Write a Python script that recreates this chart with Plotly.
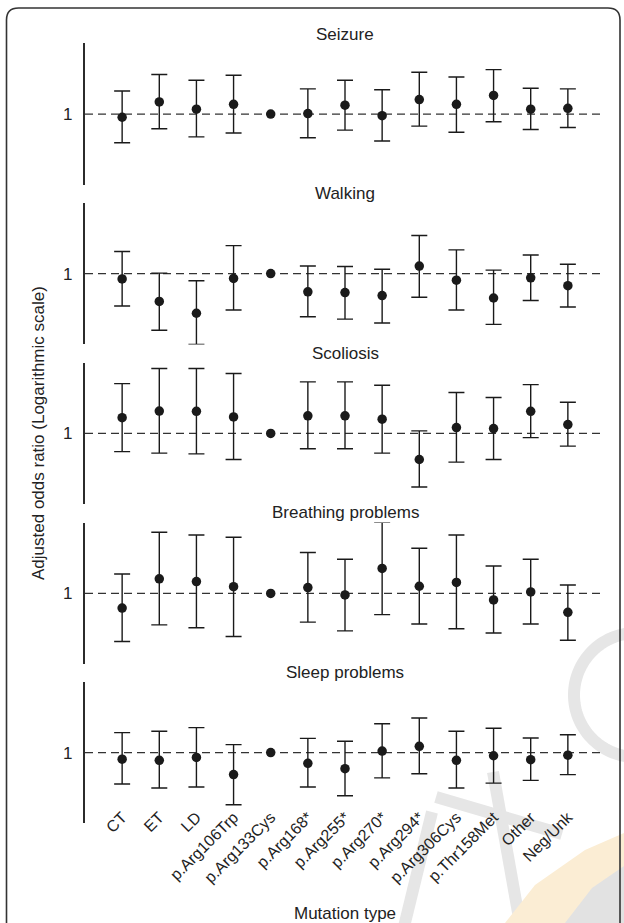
import numpy as np
import plotly.graph_objects as go

W, H = 624, 923

categories = ["CT", "ET", "LD", "p.Arg106Trp", "p.Arg133Cys", "p.Arg168*", "p.Arg255*",
              "p.Arg270*", "p.Arg294*", "p.Arg306Cys", "p.Thr158Met", "Other", "Neg/Unk"]
reference_category = "p.Arg133Cys"

panel_titles = ["Seizure", "Walking", "Scoliosis", "Breathing problems", "Sleep problems"]

# Adjusted odds ratios (point, lower CI, upper CI); reference category = 1 with no CI
seizure_or = [0.94, 1.27, 1.10, 1.21, 1.00, 1.01, 1.19, 0.97, 1.33, 1.21, 1.44, 1.10, 1.12]
seizure_lo = [0.57, 0.75, 0.64, 0.69, None, 0.63, 0.73, 0.59, 0.79, 0.70, 0.86, 0.74, 0.77]
seizure_hi = [1.57, 2.17, 1.94, 2.14, None, 1.64, 1.94, 1.61, 2.27, 2.07, 2.39, 1.66, 1.64]

walking_or = [0.90, 0.58, 0.46, 0.91, 1.00, 0.70, 0.69, 0.65, 1.16, 0.88, 0.62, 0.92, 0.79]
walking_lo = [0.53, 0.33, 0.25, 0.49, None, 0.43, 0.41, 0.38, 0.63, 0.49, 0.37, 0.59, 0.52]
walking_hi = [1.54, 1.01, 0.87, 1.73, None, 1.16, 1.15, 1.09, 2.11, 1.59, 1.07, 1.44, 1.20]

scoliosis_or = [1.36, 1.55, 1.54, 1.38, 1.00, 1.41, 1.41, 1.32, 0.60, 1.12, 1.10, 1.54, 1.19]
scoliosis_lo = [0.70, 0.68, 0.67, 0.60, None, 0.74, 0.74, 0.68, 0.35, 0.57, 0.60, 0.92, 0.78]
scoliosis_hi = [2.65, 3.56, 3.56, 3.23, None, 2.74, 2.74, 2.57, 1.05, 2.23, 2.02, 2.60, 1.84]

breathing_or = [0.75, 1.33, 1.26, 1.14, 1.00, 1.12, 0.97, 1.63, 1.15, 1.24, 0.88, 1.03, 0.69]
breathing_lo = [0.39, 0.54, 0.51, 0.43, None, 0.57, 0.48, 0.66, 0.55, 0.50, 0.46, 0.55, 0.40]
breathing_hi = [1.46, 3.31, 3.14, 3.00, None, 2.23, 1.95, 4.02, 2.42, 3.14, 1.71, 1.95, 1.18]

sleep_or = [0.88, 0.86, 0.91, 0.65, 1.00, 0.81, 0.73, 1.03, 1.13, 0.86, 0.94, 0.87, 0.95]
sleep_lo = [0.54, 0.50, 0.51, 0.36, None, 0.51, 0.43, 0.61, 0.66, 0.50, 0.55, 0.58, 0.65]
sleep_hi = [1.48, 1.52, 1.63, 1.17, None, 1.32, 1.25, 1.76, 1.97, 1.52, 1.61, 1.33, 1.42]

panels = [
    (seizure_or, seizure_lo, seizure_hi),
    (walking_or, walking_lo, walking_hi),
    (scoliosis_or, scoliosis_lo, scoliosis_hi),
    (breathing_or, breathing_lo, breathing_hi),
    (sleep_or, sleep_lo, sleep_hi),
]

y_tick_vals = [1]
y_tick_text = ["1"]
y_range_or = (0.25, 4.0)

# ---------------- layout geometry (pixels) ----------------
plot_left, plot_right = 85, 605
panel_tops = [43.3, 202.8, 362.6, 522.6, 681.8]
panel_h = 141.6
title_y = [34.5, 193.5, 353.5, 512.5, 672.5]
tick_label_line_y = 804

def px_x(px):
    return (px - plot_left) / (plot_right - plot_left)

def py(pyv):
    return 1 - pyv / H

FONT = "Liberation Sans, Arial, sans-serif"
INK = "#1a1a1a"

fig = go.Figure()
layout = dict(
    width=W, height=H,
    margin=dict(l=plot_left, r=W - plot_right, t=0, b=0),
    paper_bgcolor="white", plot_bgcolor="rgba(0,0,0,0)",
    showlegend=False,
    font=dict(family=FONT, size=16, color="#222"),
)

shapes = []
annotations = []

# ---- watermark (decorative, faint) ----
def pathxy(points):
    s = ""
    for i, (x, y) in enumerate(points):
        s += ("M" if i == 0 else "L") + f"{px_x(x):.5f},{py(y):.5f} "
    return s

theta = np.radians(np.linspace(100, 262, 60))
arc_pts = [(636 + 62 * np.cos(t), 695 - 62 * np.sin(t)) for t in theta]
shapes.append(dict(type="path", xref="paper", yref="paper", path=pathxy(arc_pts),
                   line=dict(color="#e6e6e6", width=12), layer="below"))
for (a, b) in [((493, 772), (522, 935)), ((436, 797), (562, 834)), ((432, 812), (402, 935))]:
    shapes.append(dict(type="line", xref="paper", yref="paper",
                       x0=px_x(a[0]), y0=py(a[1]), x1=px_x(b[0]), y1=py(b[1]),
                       line=dict(color="#e6e6e6", width=12), layer="below"))
swoosh = [(505, 923), (535, 885), (585, 850), (624, 833), (624, 923)]
shapes.append(dict(type="path", xref="paper", yref="paper", path=pathxy(swoosh) + "Z",
                   fillcolor="#fbedd4", line=dict(width=0), layer="below"))
swoosh2 = [(565, 923), (592, 888), (624, 866), (624, 923)]
shapes.append(dict(type="path", xref="paper", yref="paper", path=pathxy(swoosh2) + "Z",
                   fillcolor="#e2e2e2", line=dict(width=0), layer="below"))

# ---- panels ----
for i, (orv, lov, hiv) in enumerate(panels):
    n = i + 1
    xa = "x" if n == 1 else f"x{n}"
    ya = "y" if n == 1 else f"y{n}"
    top, bot = panel_tops[i], panel_tops[i] + panel_h
    dom = [py(bot), py(top)]

    xdef = dict(
        domain=[0, 1], type="category", categoryorder="array",
        categoryarray=categories, range=[-1, 13],
        showgrid=False, zeroline=False, showline=False, ticks="",
        showticklabels=(n == 5), tickangle=-45,
        tickfont=dict(family=FONT, size=16, color="#222"),
    )
    if n == 5:
        xdef.update(anchor="free", position=py(tick_label_line_y))
    else:
        xdef.update(anchor=ya)
    if n != 1:
        xdef.update(matches="x")
    layout[f"xaxis{'' if n == 1 else n}"] = xdef
    layout[f"yaxis{'' if n == 1 else n}"] = dict(
        domain=dom, anchor=xa, type="log",
        range=[np.log10(y_range_or[0]), np.log10(y_range_or[1])],
        tickvals=y_tick_vals, ticktext=y_tick_text, ticks="",
        ticklabelstandoff=7,
        showgrid=False, zeroline=False, showline=True, linecolor="#2b2b2b", linewidth=2.4,
        tickfont=dict(family=FONT, size=17, color="#222"),
    )

    # dashed reference line at OR = 1
    shapes.append(dict(type="line", xref=f"{xa} domain", yref=ya, x0=0, x1=1, y0=1, y1=1,
                       line=dict(color="#333", width=1.4, dash="8px,5px"), layer="below"))

    xs, ys, ep, em = [], [], [], []
    for c, v, lo, hi in zip(categories, orv, lov, hiv):
        if c == reference_category:
            continue
        xs.append(c)
        ys.append(v)
        ep.append(hi - v)
        em.append(v - lo)
    fig.add_trace(go.Scatter(
        x=xs, y=ys, xaxis=xa, yaxis=ya, mode="markers",
        marker=dict(color=INK, size=9.5),
        error_y=dict(type="data", symmetric=False, array=ep, arrayminus=em,
                     color=INK, thickness=1.4, width=8),
        hoverinfo="skip",
    ))
    ref_idx = categories.index(reference_category)
    fig.add_trace(go.Scatter(
        x=[reference_category], y=[orv[ref_idx]], xaxis=xa, yaxis=ya, mode="markers",
        marker=dict(color=INK, size=9.5), hoverinfo="skip",
    ))

    annotations.append(dict(text=panel_titles[i], xref="paper", yref="paper",
                            x=0.5, y=py(title_y[i]), xanchor="center", yanchor="middle",
                            showarrow=False, font=dict(family=FONT, size=17, color="#222")))

annotations.append(dict(text="Adjusted odds ratio (Logarithmic scale)", xref="paper", yref="paper",
                        x=px_x(38), y=py(433), xanchor="center", yanchor="middle", textangle=-90,
                        showarrow=False, font=dict(family=FONT, size=17, color="#222")))
annotations.append(dict(text="Mutation type", xref="paper", yref="paper",
                        x=0.5, y=py(913), xanchor="center", yanchor="middle",
                        showarrow=False, font=dict(family=FONT, size=17, color="#222")))

# rounded figure border (open at the bottom, runs off the page)
r = 12
bl, bt, br_ = 6.5, 8.0, 620.0
border = (f"M{px_x(bl):.5f},{py(940):.5f} L{px_x(bl):.5f},{py(bt + r):.5f} "
          f"Q{px_x(bl):.5f},{py(bt):.5f} {px_x(bl + r):.5f},{py(bt):.5f} "
          f"L{px_x(br_ - r):.5f},{py(bt):.5f} "
          f"Q{px_x(br_):.5f},{py(bt):.5f} {px_x(br_):.5f},{py(bt + r):.5f} "
          f"L{px_x(br_):.5f},{py(940):.5f}")
shapes.append(dict(type="path", xref="paper", yref="paper", path=border,
                   line=dict(color="#333", width=1.6)))

layout["shapes"] = shapes
layout["annotations"] = annotations
fig.update_layout(**layout)
fig.write_html("out.html")
